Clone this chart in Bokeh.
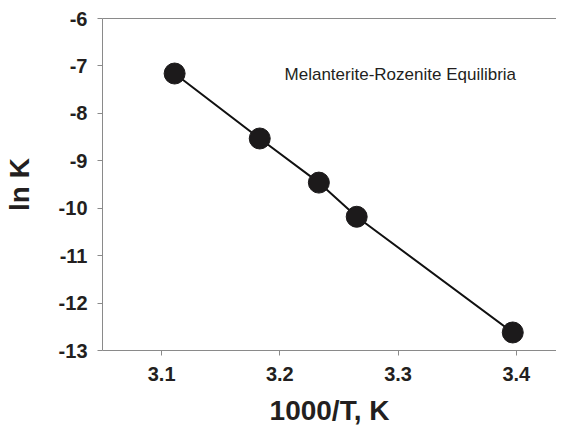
from bokeh.plotting import figure
from bokeh.models import Range1d, LinearAxis, FixedTicker, Label, PrintfTickFormatter
from bokeh.embed import file_html
from bokeh.resources import INLINE

inv_T = [3.111, 3.183, 3.233, 3.265, 3.397]
ln_K = [-7.16, -8.53, -9.46, -10.18, -12.62]
x_ticks = [3.1, 3.2, 3.3, 3.4]
y_ticks = [-13, -12, -11, -10, -9, -8, -7, -6]
note = "Melanterite-Rozenite Equilibria"

FONT = "Liberation Sans"
AX = "#8a8a8a"
TXT = "#231f20"

p = figure(frame_width=454, frame_height=332, output_backend="svg", toolbar_location=None,
           x_range=Range1d(3.05, 3.434), y_range=Range1d(-13, -6),
           min_border_left=95, min_border_top=18, min_border_right=0, min_border_bottom=0)
p.outline_line_color = None
p.grid.grid_line_color = None
p.background_fill_color = "white"
p.border_fill_color = "white"

for ax in (p.xaxis[0], p.yaxis[0]):
    ax.axis_line_color = AX
    ax.major_tick_line_color = AX
    ax.minor_tick_line_color = None
    ax.major_tick_in = 0
    ax.major_tick_out = 5
    ax.major_label_text_font = FONT
    ax.major_label_text_font_style = "bold"
    ax.major_label_text_font_size = "20px"
    ax.major_label_text_color = TXT
    ax.axis_label_text_font = FONT
    ax.axis_label_text_font_style = "bold"
    ax.axis_label_text_font_size = "28px"
    ax.axis_label_text_color = TXT

p.xaxis[0].ticker = FixedTicker(ticks=x_ticks)
p.yaxis[0].ticker = FixedTicker(ticks=y_ticks)
p.xaxis[0].formatter = PrintfTickFormatter(format="%.1f")
p.yaxis[0].formatter = PrintfTickFormatter(format="%d")
p.xaxis[0].axis_label = "1000/T, K"
p.yaxis[0].axis_label = "ln K"
p.xaxis[0].major_label_standoff = 11
p.yaxis[0].major_label_standoff = 10
p.xaxis[0].axis_label_standoff = 11
p.yaxis[0].axis_label_standoff = 21

top = LinearAxis(ticker=FixedTicker(ticks=[]), major_label_text_font_size="0px",
                 axis_line_color=AX, major_tick_line_color=None, minor_tick_line_color=None)
p.add_layout(top, "above")

p.line(inv_T, ln_K, line_color="#111111", line_width=2)
p.scatter(inv_T, ln_K, size=21, fill_color="#1c1a1b", line_color="#1c1a1b")

p.add_layout(Label(x=3.204, y=-7.18, text=note, text_font=FONT, text_font_size="17px",
                   text_color=TXT, text_align="left", text_baseline="middle"))

open("out.html", "w").write(file_html(p, INLINE))
